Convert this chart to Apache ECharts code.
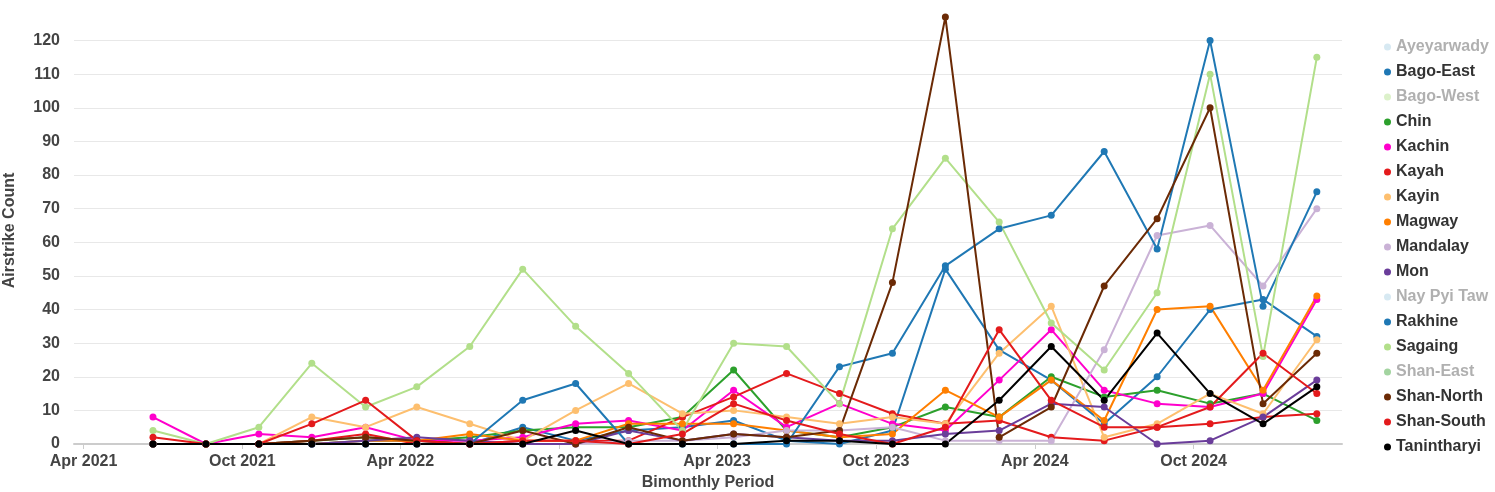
<!DOCTYPE html>
<html>
<head>
<meta charset="utf-8">
<script src="https://cdn.jsdelivr.net/npm/echarts@6/dist/echarts.min.js"></script>
<style>
html,body{margin:0;padding:0;background:#fff;}
#chart{width:1495px;height:492px;}
</style>
</head>
<body>
<div id="chart"></div>
<script>
// Bimonthly period dates (Jun 2021 .. Feb 2025)
const periods = ['2021-06-20','2021-08-20','2021-10-20','2021-12-20','2022-02-20','2022-04-20','2022-06-20','2022-08-20','2022-10-20','2022-12-20','2023-02-20','2023-04-20','2023-06-20','2023-08-20','2023-10-20','2023-12-20','2024-02-20','2024-04-20','2024-06-20','2024-08-20','2024-10-20','2024-12-20','2025-02-20'];

const xTickDates = ['2021-04-01','2021-10-01','2022-04-01','2022-10-01','2023-04-01','2023-10-01','2024-04-01','2024-10-01'];
const xTickLabels = ['Apr 2021','Oct 2021','Apr 2022','Oct 2022','Apr 2023','Oct 2023','Apr 2024','Oct 2024'];

const regions = ['Ayeyarwady','Bago-East','Bago-West','Chin','Kachin','Kayah','Kayin','Magway','Mandalay','Mon','Nay Pyi Taw','Rakhine','Sagaing','Shan-East','Shan-North','Shan-South','Tanintharyi'];
const hiddenRegions = ['Ayeyarwady','Bago-West','Nay Pyi Taw','Shan-East'];

const ayeyarwady = [];
const bagoWest = [];
const nayPyiTaw = [];
const shanEast = [];
const bagoEast    = [0,0,0,0,1,1,0,5,1,4,5,7,1,0,4,52,28,19,6,20,40,43,32];
const chin        = [0,0,0,1,2,1,2,4,5,5,8,22,4,2,5,11,8,20,14,16,12,15,7];
const kachin      = [8,0,3,2,5,1,1,2,6,7,4,16,5,12,6,4,19,34,16,12,11,15,43];
const kayah       = [0,0,0,1,3,0,0,1,1,1,8,14,21,15,9,6,7,2,1,5,6,8,9];
const kayin       = [0,0,0,8,5,11,6,1,10,18,9,10,8,6,8,6,27,41,2,6,15,9,31];
const magway      = [0,0,0,0,1,1,3,1,1,6,6,6,4,2,3,16,8,19,7,40,41,16,44];
const mandalay    = [0,0,0,0,0,0,0,0,0,1,1,2,4,4,5,1,1,1,28,62,65,47,70];
const mon         = [0,0,0,0,1,2,1,0,0,4,1,3,2,1,1,3,4,12,11,0,1,8,19];
const rakhine     = [0,0,0,0,0,0,0,13,18,0,0,0,0,23,27,53,64,68,87,58,120,41,75];
const sagaing     = [4,0,5,24,11,17,29,52,35,21,4,30,29,12,64,85,66,36,22,45,110,26,115];
const shanNorth   = [0,0,0,1,2,1,0,4,0,5,1,3,2,4,48,127,2,11,47,67,100,12,27];
const shanSouth   = [2,0,0,6,13,1,0,1,1,0,3,12,7,3,0,5,34,13,5,5,11,27,15];
const tanintharyi = [0,0,0,0,0,0,0,0,4,0,0,0,1,1,0,0,13,29,13,33,15,6,17];

const seriesData = {
  'Ayeyarwady': ayeyarwady, 'Bago-East': bagoEast, 'Bago-West': bagoWest, 'Chin': chin,
  'Kachin': kachin, 'Kayah': kayah, 'Kayin': kayin, 'Magway': magway, 'Mandalay': mandalay,
  'Mon': mon, 'Nay Pyi Taw': nayPyiTaw, 'Rakhine': rakhine, 'Sagaing': sagaing,
  'Shan-East': shanEast, 'Shan-North': shanNorth, 'Shan-South': shanSouth, 'Tanintharyi': tanintharyi
};

const colors = {
  'Ayeyarwady':'#a6cee3','Bago-East':'#1f77b4','Bago-West':'#b2df8a','Chin':'#2ca02c',
  'Kachin':'#ff00cc','Kayah':'#e41a1c','Kayin':'#fdbf6f','Magway':'#ff7f00','Mandalay':'#cab2d6',
  'Mon':'#6a3d9a','Nay Pyi Taw':'#a6cee3','Rakhine':'#1f78b4','Sagaing':'#b2df8a',
  'Shan-East':'#33a02c','Shan-North':'#6b2a05','Shan-South':'#e31a1c','Tanintharyi':'#000000'
};

const ts = s => Date.UTC(+s.slice(0,4), +s.slice(5,7) - 1, +s.slice(8,10));
const xTickValues = xTickDates.map(ts);

const FONT = '"Liberation Sans", Arial, Helvetica, sans-serif';
const chart = echarts.init(document.getElementById('chart'), null, {renderer:'canvas'});

const series = regions.map(name => ({
  name: name,
  type: 'line',
  data: seriesData[name].map((v, i) => [ts(periods[i]), v]),
  symbol: 'circle',
  symbolSize: 7,
  lineStyle: {width: 2, color: colors[name]},
  itemStyle: {color: colors[name]},
  emphasis: {disabled: true},
  animation: false
}));

const legendData = regions.map(name => {
  const hidden = hiddenRegions.indexOf(name) >= 0;
  return {
    name: name,
    icon: 'circle',
    itemStyle: {color: colors[name], opacity: hidden ? 0.45 : 1},
    textStyle: {color: hidden ? '#b0b0b0' : '#333333'}
  };
});

chart.setOption({
  animation: false,
  color: regions.map(n => colors[n]),
  grid: {left: 74, right: 153, top: 17, bottom: 48, containLabel: false, outerBoundsMode: 'none'},
  legend: {
    orient: 'vertical',
    left: 1379,
    top: 34,
    itemWidth: 7,
    itemHeight: 7,
    itemGap: 9,
    data: legendData,
    textStyle: {fontFamily: FONT, fontWeight: 'bold', fontSize: 16, color: '#333'},
    selectedMode: false
  },
  xAxis: {
    type: 'value',
    min: ts('2021-03-21'),
    max: ts('2025-03-21'),
    name: 'Bimonthly Period',
    nameLocation: 'middle',
    nameGap: 30,
    nameTextStyle: {fontFamily: FONT, fontWeight: 'bold', fontSize: 16, color: '#444'},
    axisLine: {show: true, lineStyle: {color: '#cccccc', width: 2}},
    axisTick: {show: true, customValues: xTickValues, length: 5, lineStyle: {color: '#cccccc'}},
    axisLabel: {
      customValues: xTickValues,
      formatter: function (val) {
        const i = xTickValues.indexOf(val);
        return i >= 0 ? xTickLabels[i] : '';
      },
      fontFamily: FONT, fontWeight: 'bold', fontSize: 16, color: '#444', margin: 10
    },
    splitLine: {show: false}
  },
  yAxis: {
    type: 'value',
    min: 0,
    max: 'dataMax',
    interval: 10,
    name: 'Airstrike Count',
    nameLocation: 'middle',
    nameGap: 56,
    nameTextStyle: {fontFamily: FONT, fontWeight: 'bold', fontSize: 16, color: '#444'},
    axisLine: {show: false},
    axisTick: {show: false},
    axisLabel: {fontFamily: FONT, fontWeight: 'bold', fontSize: 16, color: '#444', margin: 14, showMaxLabel: false},
    splitLine: {show: true, showMaxLine: false, lineStyle: {color: '#e8e8e8', width: 1}}
  },
  series: series
});
</script>
</body>
</html>
